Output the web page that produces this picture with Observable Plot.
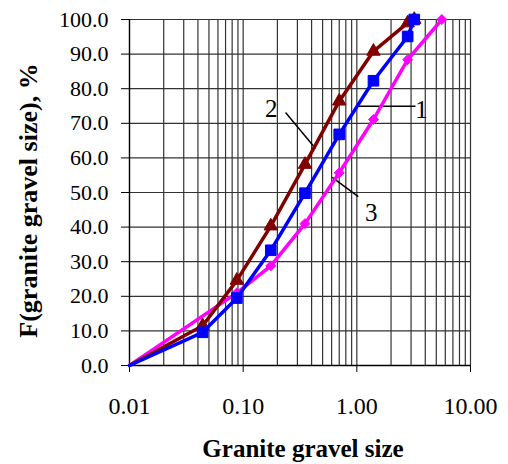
<!DOCTYPE html>
<html>
<head>
<meta charset="utf-8">
<script src="https://cdn.jsdelivr.net/npm/d3@7"></script>
<script src="https://cdn.jsdelivr.net/npm/@observablehq/plot@0.6"></script>
<style>
  html, body { margin: 0; padding: 0; background: #fff; }
  #chart svg { display: block; }
</style>
</head>
<body>
<div id="chart"></div>
<script>
// ---- data ----
const sizes1 = [0.01, 0.044, 0.088, 0.175, 0.35, 0.7, 1.4, 2.8, 3.2];
const pct1   = [0, 9.6, 19.5, 33.3, 49.8, 66.8, 82.3, 95.1, 100];
const sizes2 = [0.01, 0.044, 0.088, 0.175, 0.35, 0.7, 1.4, 2.8, 3.2];
const pct2   = [0, 11.5, 24.6, 40.3, 58.1, 76.4, 90.8, 99, 100];
const sizes3 = [0.01, 0.088, 0.175, 0.35, 0.7, 1.4, 2.8, 5.6];
const pct3   = [0, 21, 28.8, 41, 55.7, 71.1, 88.4, 100];

const xTicks = [0.01, 0.1, 1, 10];
const xTickLabels = ["0.01", "0.10", "1.00", "10.00"];
const yTicks = [0, 10, 20, 30, 40, 50, 60, 70, 80, 90, 100];
const yTickLabels = ["0.0", "10.0", "20.0", "30.0", "40.0", "50.0", "60.0", "70.0", "80.0", "90.0", "100.0"];

const xLabel = "Granite gravel size";
const yLabel = "F(granite gravel size), %";

const noteLabels = ["1", "2", "3"];
const noteTextX = [3.71, 0.177, 1.34];
const noteTextY = [73.7, 74, 44.1];
const noteLineX1 = [1.02, 0.236, 0.607];
const noteLineY1 = [74.9, 73.1, 54.4];
const noteLineX2 = [3.28, 0.433, 1.03];
const noteLineY2 = [74.9, 62.7, 48.8];

// ---- build tables ----
const s1 = sizes1.map((x, i) => ({x, y: pct1[i]}));
const s2 = sizes2.map((x, i) => ({x, y: pct2[i]}));
const s3 = sizes3.map((x, i) => ({x, y: pct3[i]}));
const minorX = [];
for (let d = 0; d < xTicks.length - 1; d++) for (let k = 1; k <= 9; k++) minorX.push(xTicks[d] * k);
minorX.push(xTicks[xTicks.length - 1]);
const notes = noteLabels.map((t, i) => ({t, x: noteTextX[i], y: noteTextY[i]}));
const links = noteLabels.map((t, i) => ({x1: noteLineX1[i], y1: noteLineY1[i], x2: noteLineX2[i], y2: noteLineY2[i]}));

const FONT = '"Liberation Serif", "Times New Roman", serif';
const RED = "#800000", BLUE = "#0000ff", MAG = "#ff00ff";

const chart = Plot.plot({
  width: 508,
  height: 464,
  marginLeft: 129,
  marginRight: 38,
  marginTop: 19,
  marginBottom: 99,
  style: {fontFamily: FONT, color: "#000", background: "#fff", overflow: "visible"},
  x: {type: "log", domain: [0.01, 10]},
  y: {domain: [0, 100]},
  marks: [
    Plot.ruleX(minorX, {stroke: "#333", strokeWidth: 1.2}),
    Plot.ruleY(yTicks, {stroke: "#333", strokeWidth: 1.2}),
    Plot.ruleX([0.01], {stroke: "#000", strokeWidth: 1.3}),
    Plot.ruleY([0], {stroke: "#000", strokeWidth: 1.3}),
    Plot.axisX({ticks: xTicks, tickFormat: (d) => xTickLabels[xTicks.indexOf(d)], tickSize: 7, tickPadding: 24,
      fontSize: 24, label: null, stroke: "#000"}),
    Plot.axisY({ticks: yTicks, tickFormat: (d) => yTickLabels[yTicks.indexOf(d)], tickSize: 8, tickPadding: 13,
      fontSize: 22, label: null, stroke: "#000"}),
    Plot.link(links, {x1: "x1", y1: "y1", x2: "x2", y2: "y2", stroke: "#000", strokeWidth: 1.5}),
    Plot.text(notes, {x: "x", y: "y", text: "t", fontSize: 25, fill: "#000"}),
    Plot.line(s3, {x: "x", y: "y", stroke: MAG, strokeWidth: 3.5}),
    Plot.dot(s3.filter(d => d.y > 0), {x: "x", y: "y", symbol: "diamond2", r: 4.5, fill: MAG, stroke: MAG, strokeWidth: 1}),
    Plot.line(s2, {x: "x", y: "y", stroke: RED, strokeWidth: 3.5}),
    Plot.dot(s2.filter(d => d.y > 0), {x: "x", y: "y", symbol: "triangle", r: 5, fill: RED, stroke: RED, strokeWidth: 1}),
    Plot.line(s1, {x: "x", y: "y", stroke: BLUE, strokeWidth: 3.5}),
    Plot.dot(s1.filter(d => d.y > 0), {x: "x", y: "y", symbol: "square", r: 6, fill: BLUE, stroke: BLUE, strokeWidth: 1}),
    Plot.text([xLabel], {frameAnchor: "bottom", textAnchor: "middle", lineAnchor: "middle", dx: 3, dy: 83,
      fontSize: 25, fontWeight: "bold", fill: "#000"}),
    Plot.text([yLabel], {frameAnchor: "left", textAnchor: "middle", lineAnchor: "middle", rotate: -90, dx: -101, dy: 8,
      fontSize: 26, fontWeight: "bold", fill: "#000"})
  ]
});
document.getElementById("chart").appendChild(chart);
</script>
</body>
</html>
